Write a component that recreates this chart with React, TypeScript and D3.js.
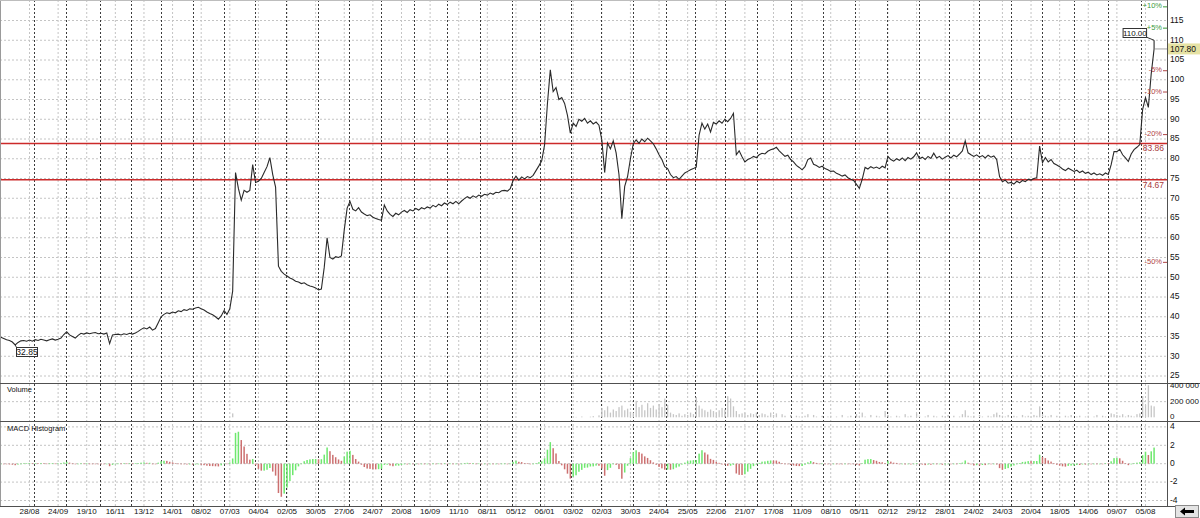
import React from 'react';
import * as d3 from 'd3';

// ---------- DATA ----------
// x-axis labels, one every 20 trading days (first at bar 20)
const labelDates = [
  '28/08', '24/09', '19/10', '16/11', '13/12', '14/01', '08/02', '07/03', '04/04', '02/05',
  '30/05', '27/06', '24/07', '20/08', '16/09', '11/10', '08/11', '05/12', '06/01', '03/02',
  '02/03', '30/03', '24/04', '25/05', '22/06', '21/07', '17/08', '11/09', '08/10', '05/11',
  '02/12', '29/12', '28/01', '24/02', '24/03', '20/04', '18/05', '14/06', '09/07', '05/08',
];
const firstYear = 2007;
const barsPerLabel = 20;
const firstLabelBar = 20;
const barsPerPoint = 2;

// closing prices, one value every 2 trading days
const closes = [
  34.8, 34.5, 34.2, 34.0, 33.6, 32.85, 33.5, 33.9, 34.0, 33.8,
  34.1, 33.8, 34.2, 34.0, 34.3, 34.1, 33.9, 34.2, 34.4, 34.1,
  34.3, 34.6, 35.5, 36.2, 35.4, 35.0, 34.6, 35.3, 35.8, 35.6,
  35.9, 35.7, 35.9, 36.0, 35.7, 35.8, 35.6, 35.9, 33.2, 35.4,
  35.5, 35.6, 35.4, 35.7, 35.5, 35.8, 35.6, 35.9, 36.3, 36.8,
  37.2, 36.9, 37.4, 36.6, 37.0, 38.5, 40.0, 40.6, 41.0, 40.8,
  41.2, 41.0, 41.5, 41.3, 41.8, 41.6, 42.0, 41.9, 42.2, 42.4,
  42.0, 41.7, 41.2, 40.8, 40.5, 40.0, 39.4, 40.2, 41.6, 40.6,
  42.0, 46.5, 76.5, 72.5, 69.5, 72.0, 71.5, 72.0, 78.5, 74.0,
  74.3, 75.0, 76.5, 78.0, 80.3, 76.0, 72.8, 52.8, 51.5, 50.8,
  50.3, 49.8, 49.5, 49.0, 48.8, 48.4, 48.6, 48.1, 47.8, 47.6,
  47.3, 46.8, 47.0, 52.5, 60.0, 55.0, 54.6, 55.2, 55.0, 55.4,
  62.0, 67.5, 69.2, 67.2, 66.8, 67.6, 66.5, 66.0, 65.6, 65.8,
  65.2, 64.9, 64.6, 64.4, 68.3, 66.8, 65.9, 65.4, 66.2, 65.8,
  66.5, 66.9, 66.4, 67.1, 66.8, 67.4, 67.0, 67.6, 67.3, 67.8,
  67.5, 68.2, 67.8, 68.5, 68.1, 68.8, 68.4, 69.0, 68.6, 69.2,
  68.6, 69.3, 69.9, 70.4, 70.0, 70.6, 70.2, 70.8, 70.5, 71.0,
  70.8, 71.3, 71.0, 71.5, 71.4, 71.9, 72.0, 71.8, 72.4, 74.5,
  75.6, 74.6, 75.4, 74.9, 75.5, 75.2, 75.8, 77.0, 78.2, 79.5,
  83.5, 94.0, 102.5, 97.0, 98.0, 95.0, 95.5, 94.0, 91.0, 86.5,
  89.0, 88.2, 90.0, 89.5, 90.2, 89.0, 89.6, 88.8, 89.3, 88.5,
  84.8, 76.5, 84.0, 82.5, 84.5, 81.5, 76.0, 64.8, 73.0, 75.5,
  80.0, 83.8, 84.8, 83.9, 85.0, 84.3, 85.2, 84.5, 83.8, 82.5,
  81.0, 79.8, 78.0, 77.5, 76.0, 75.2, 75.5, 74.8, 75.6, 76.4,
  76.8, 77.2, 77.5, 77.9, 86.0, 89.0, 87.5, 88.8, 86.8, 89.2,
  88.8, 89.6, 89.0, 90.0, 89.4, 90.2, 91.5, 81.0, 82.0, 80.5,
  79.2, 79.8, 80.1, 80.6, 80.3, 81.0, 81.4, 81.2, 81.9, 82.3,
  82.5, 82.9, 82.0, 81.3, 80.6, 80.9, 79.8, 79.2, 78.3, 77.8,
  77.2, 78.0, 79.8, 80.2, 78.6, 78.3, 77.8, 78.1, 77.5, 77.2,
  76.8, 76.9, 76.3, 76.0, 75.6, 75.9, 75.2, 74.8, 74.5, 73.5,
  72.5, 74.8, 77.8, 77.4, 78.0, 77.6, 77.9, 77.5, 78.1, 77.7,
  80.6, 79.8, 79.4, 80.0, 79.6, 80.2, 79.5, 80.3, 79.9, 80.5,
  81.5, 80.0, 80.4, 79.8, 80.6, 80.1, 81.4, 80.2, 80.6, 79.9,
  80.4, 80.8, 80.2, 80.9, 80.5, 81.2, 82.0, 84.5, 81.5, 81.0,
  80.6, 81.0, 80.4, 80.8, 80.2, 80.9, 80.4, 80.7, 79.8, 75.5,
  74.2, 74.6, 73.8, 74.0, 73.6, 74.3, 73.9, 74.5, 74.2, 74.8,
  74.6, 75.0, 75.2, 83.2, 79.0, 80.3, 79.2, 79.8, 78.8, 78.4,
  78.0, 77.4, 77.0, 77.6, 77.2, 76.8, 77.1, 76.5, 76.9, 76.3,
  76.6, 76.0, 76.4, 75.9, 76.2, 75.8, 76.4, 76.0, 78.5, 81.8,
  81.8, 82.4, 81.0, 80.2, 79.3, 81.2, 82.3, 82.9, 83.6, 92.5,
  95.5, 93.0, 101.5, 107.8,
];
const lastHigh = 110.0;

// volume in thousands, aligned with closes
const volumeK = [
  0, 0, 0, 0, 0, 0, 0, 0, 0, 0,
  0, 0, 0, 0, 0, 0, 0, 0, 0, 0,
  0, 0, 0, 0, 0, 0, 0, 0, 0, 0,
  0, 0, 0, 0, 0, 0, 0, 0, 0, 0,
  0, 0, 0, 0, 0, 0, 0, 0, 0, 0,
  0, 0, 0, 0, 0, 0, 0, 0, 0, 0,
  0, 0, 0, 0, 0, 0, 0, 0, 0, 0,
  0, 0, 0, 0, 0, 0, 0, 0, 0, 0,
  0, 50, 0, 0, 0, 0, 0, 0, 0, 0,
  0, 0, 0, 0, 0, 0, 0, 0, 0, 0,
  0, 0, 0, 0, 0, 0, 0, 0, 0, 0,
  0, 0, 0, 0, 0, 0, 0, 0, 0, 0,
  0, 0, 0, 0, 0, 0, 0, 0, 0, 0,
  0, 0, 0, 0, 0, 0, 0, 0, 0, 0,
  0, 0, 0, 0, 0, 0, 0, 0, 0, 0,
  0, 0, 0, 0, 0, 0, 0, 0, 0, 0,
  0, 0, 0, 0, 0, 0, 0, 0, 0, 0,
  0, 0, 0, 0, 0, 0, 0, 0, 0, 0,
  0, 0, 0, 0, 0, 0, 0, 0, 0, 0,
  0, 0, 0, 0, 0, 0, 0, 0, 0, 0,
  0, 5, 0, 10, 0, 0, 8, 15, 0, 25,
  120, 90, 140, 60, 100, 80, 130, 150, 90, 110,
  70, 60, 210, 130, 160, 90, 180, 120, 150, 100,
  170, 130, 240, 160, 60, 40, 30, 50, 20, 40,
  30, 60, 40, 260, 150, 110, 90, 70, 100, 80,
  60, 90, 120, 100, 270, 240, 140, 80, 40, 50,
  60, 30, 50, 40, 60, 30, 50, 40, 20, 60,
  30, 50, 0, 40, 20, 0, 30, 0, 20, 10,
  0, 20, 40, 0, 30, 10, 0, 20, 0, 10,
  20, 0, 10, 0, 30, 0, 10, 20, 0, 40,
  20, 60, 10, 0, 30, 0, 20, 10, 0, 80,
  30, 10, 0, 20, 10, 0, 40, 10, 20, 0,
  50, 20, 0, 10, 30, 0, 20, 10, 0, 20,
  10, 30, 0, 20, 0, 10, 40, 90, 20, 10,
  20, 0, 30, 10, 0, 20, 10, 40, 60, 30,
  20, 10, 30, 0, 20, 10, 0, 30, 10, 20,
  10, 30, 20, 140, 40, 20, 10, 30, 0, 20,
  10, 0, 20, 10, 30, 0, 10, 20, 0, 10,
  20, 0, 10, 30, 0, 20, 10, 0, 50, 40,
  30, 20, 40, 10, 30, 20, 10, 40, 50, 270,
  160, 410, 150, 140,
];

const levels = [83.86, 74.67];
const pctMarks = [10, 5, -5, -10, -20, -50];
const priceTicks = [25, 30, 35, 40, 45, 50, 55, 60, 65, 70, 75, 80, 85, 90, 95, 100, 105, 110, 115];
const volumeTicks = [0, 200000, 400000];
const volumeTickLabels = ['0', '200 000', '400 000'];
const macdTicks = [-4, -2, 0, 2, 4];
const macdPeriods = { fast: 12, slow: 26, signal: 9 };

// ---------- LAYOUT ----------
const W = 1200;
const H = 518;
const R = 1167;
const PRICE = { top: 0, bottom: 383 };
const VOL = { top: 383, bottom: 421 };
const MACD = { top: 421, bottom: 506 };
const FONT = "'Liberation Sans', Arial, sans-serif";

export default function App() {
  const x = d3.scaleLinear().domain([firstLabelBar, firstLabelBar + barsPerLabel * 39]).range([29.5, 1145.5]);
  const px = (i: number) => x(i * barsPerPoint);
  const yP = d3.scaleLinear().domain([25, 115]).range([376, 20.5]);
  const yV = d3.scaleLinear().domain([0, 400000]).range([417.3, 386]);
  const yM = d3.scaleLinear().domain([-4, 4]).range([500.5, 426.9]);

  // dates of labels
  let year = firstYear;
  let prevMonth = 0;
  const dates = labelDates.map((s) => {
    const [d, m] = s.split('/').map(Number);
    if (m < prevMonth) year++;
    prevMonth = m;
    return new Date(year, m - 1, d);
  });
  const labelBars = labelDates.map((_, k) => firstLabelBar + barsPerLabel * k);
  const monthBars: number[] = [];
  for (let k = 0; k < dates.length - 1; k++) {
    const a = dates[k];
    const b = dates[k + 1];
    d3.timeMonth.range(d3.timeDay.offset(a, 1), d3.timeDay.offset(b, 1)).forEach((ms) => {
      monthBars.push(labelBars[k] + (barsPerLabel * (+ms - +a)) / (+b - +a));
    });
  }

  // MACD histogram (daily periods adapted to the 2-day step)
  const alpha = (n: number) => 1 - Math.pow(1 - 2 / (n + 1), barsPerPoint);
  const aF = alpha(macdPeriods.fast);
  const aS = alpha(macdPeriods.slow);
  const aG = alpha(macdPeriods.signal);
  let eF = closes[0];
  let eS = closes[0];
  let sig = 0;
  const hist = closes.map((c, i) => {
    if (i > 0) {
      eF += aF * (c - eF);
      eS += aS * (c - eS);
    }
    const m = eF - eS;
    sig += aG * (m - sig);
    return m - sig;
  });

  const line = d3
    .line<number>()
    .x((_, i) => px(i))
    .y((c) => yP(c));

  const last = closes[closes.length - 1];
  const lastI = closes.length - 1;
  const minC = d3.min(closes) as number;
  const minI = closes.indexOf(minC);

  const lightGrid = '#c4c4c4';
  const darkGrid = '#3c3c3c';
  const sep = '#505050';
  const boxX = px(lastI) - 31;

  return (
    <svg
      width={W}
      height={H}
      style={{ position: 'absolute', left: 0, top: 0, background: '#fff' }}
      fontFamily={FONT}
    >
      <defs>
        <clipPath id="clipP">
          <rect x={0} y={PRICE.top} width={R} height={PRICE.bottom - PRICE.top} />
        </clipPath>
        <clipPath id="clipV">
          <rect x={0} y={VOL.top} width={W} height={VOL.bottom - VOL.top} />
        </clipPath>
      </defs>
      <rect x={0} y={0} width={W} height={H} fill="#fff" />

      {/* horizontal grids */}
      {priceTicks.map((t) => (
        <line key={'hp' + t} x1={0} x2={R} y1={yP(t)} y2={yP(t)} stroke={lightGrid} strokeDasharray="2,2" />
      ))}
      {volumeTicks.slice(1, 2).map((t) => (
        <line key={'hv' + t} x1={0} x2={R} y1={yV(t)} y2={yV(t)} stroke={lightGrid} strokeDasharray="2,2" />
      ))}
      {macdTicks.map((t) => (
        <line key={'hm' + t} x1={0} x2={R} y1={yM(t)} y2={yM(t)} stroke={lightGrid} strokeDasharray="2,2" />
      ))}

      {/* vertical grids */}
      {labelBars.map((b) => (
        <line key={'vl' + b} x1={x(b)} x2={x(b)} y1={0} y2={MACD.bottom} stroke={lightGrid} strokeDasharray="2,2" />
      ))}
      {monthBars.map((b, i) => (
        <line
          key={'vm' + i}
          x1={Math.round(x(b)) + 0.5}
          x2={Math.round(x(b)) + 0.5}
          y1={0}
          y2={MACD.bottom}
          stroke={darkGrid}
          strokeDasharray="2,2"
        />
      ))}

      {/* support / resistance lines */}
      {levels.map((l) => (
        <g key={'lv' + l}>
          <line x1={0} x2={R} y1={yP(l)} y2={yP(l)} stroke="#cc2a2a" strokeWidth={1.6} />
          <text x={R - 3} y={yP(l) + 5.5} fontSize={8.5} fill="#a83a3a" textAnchor="end" dominantBaseline="middle">
            {l.toFixed(2)}
          </text>
        </g>
      ))}

      {/* price */}
      <g clipPath="url(#clipP)">
        <path d={line(closes) || ''} fill="none" stroke="#2a2a2a" strokeWidth={1.1} />
        <line x1={px(lastI)} x2={px(lastI)} y1={yP(last)} y2={yP(lastHigh)} stroke="#2a2a2a" strokeWidth={1.1} />
        <line x1={px(lastI) + 1} x2={R} y1={yP(last)} y2={yP(last)} stroke="#a0a0a0" />
      </g>

      {/* high label */}
      <line x1={boxX + 23} y1={37} x2={px(lastI)} y2={yP(lastHigh)} stroke="#333" />
      <rect x={boxX} y={28.5} width={23.5} height={9} fill="#fff" stroke="#333" />
      <text x={boxX + 11.75} y={33.5} fontSize={8} textAnchor="middle" dominantBaseline="middle" fill="#111">
        {lastHigh.toFixed(2)}
      </text>

      {/* low label */}
      <line x1={px(minI)} y1={yP(minC)} x2={17} y2={348.5} stroke="#333" />
      <rect x={16.5} y={347.5} width={21} height={9} fill="#fff" stroke="#333" />
      <text x={27} y={352.5} fontSize={8.5} textAnchor="middle" dominantBaseline="middle" fill="#111">
        {minC.toFixed(2)}
      </text>

      {/* volume */}
      <g clipPath="url(#clipV)">
        {volumeK.map((v, i) =>
          v > 0 ? (
            <rect
              key={'v' + i}
              x={px(i) - 0.6}
              width={1.3}
              y={yV(v * 1000)}
              height={yV(0) - yV(v * 1000)}
              fill="#c6c6c6"
            />
          ) : null
        )}
      </g>

      {/* macd histogram */}
      {hist.map((h, i) => {
        const up = i === 0 ? h >= 0 : h >= hist[i - 1];
        const y0 = yM(0);
        const y1 = yM(h);
        return (
          <rect
            key={'m' + i}
            x={px(i) - 0.75}
            width={1.5}
            y={Math.min(y0, y1)}
            height={Math.max(0.6, Math.abs(y1 - y0))}
            fill={up ? '#6ee86e' : '#cc7070'}
          />
        );
      })}

      {/* panel frames */}
      <line x1={0.5} x2={0.5} y1={0} y2={MACD.bottom} stroke="#9a9a9a" />
      <line x1={0} x2={R} y1={0.5} y2={0.5} stroke="#bdbdbd" />
      <line x1={R + 0.5} x2={R + 0.5} y1={0} y2={MACD.bottom} stroke={sep} />
      <line x1={0} x2={W} y1={PRICE.bottom + 0.5} y2={PRICE.bottom + 0.5} stroke={sep} />
      <line x1={0} x2={W} y1={VOL.bottom + 0.5} y2={VOL.bottom + 0.5} stroke={sep} />
      <line x1={0} x2={R + 8} y1={MACD.bottom + 0.5} y2={MACD.bottom + 0.5} stroke={sep} />

      {/* right axis: price */}
      {priceTicks.map((t) => (
        <text key={'tp' + t} x={R + 3} y={yP(t)} fontSize={8.5} dominantBaseline="middle" fill="#111">
          {t}
        </text>
      ))}
      {pctMarks.map((p) => {
        const yy = yP(last * (1 + p / 100));
        const col = p > 0 ? '#3a9a3a' : '#b04444';
        return (
          <g key={'pc' + p}>
            <text x={R - 5} y={yy} fontSize={7.5} textAnchor="end" dominantBaseline="middle" fill={col}>
              {(p > 0 ? '+' : '') + p + '%'}
            </text>
            <line x1={R - 4} x2={R} y1={yy + 0.5} y2={yy + 0.5} stroke={col} />
          </g>
        );
      })}
      <rect x={R + 1} y={yP(last) - 5.5} width={W - R - 1} height={11} fill="#e6e2a4" />
      <text x={R + 3} y={yP(last) + 0.5} fontSize={8.5} dominantBaseline="middle" fill="#111">
        {last.toFixed(2)}
      </text>

      {/* right axis: volume */}
      <g clipPath="url(#clipV)">
        {volumeTicks.map((t, i) => (
          <text key={'tv' + t} x={R + 3} y={yV(t)} fontSize={8} dominantBaseline="middle" fill="#111">
            {volumeTickLabels[i]}
          </text>
        ))}
      </g>
      {/* right axis: macd */}
      {macdTicks.map((t) => (
        <text key={'tm' + t} x={R + 3} y={yM(t)} fontSize={8.5} dominantBaseline="middle" fill="#111">
          {t}
        </text>
      ))}

      {/* panel titles */}
      <text x={7} y={390.5} fontSize={7.5} dominantBaseline="middle" fill="#111">
        Volume
      </text>
      <text x={7} y={429} fontSize={7.5} dominantBaseline="middle" fill="#111">
        MACD Histogram
      </text>

      {/* x labels */}
      {labelDates.map((s, k) => (
        <text
          key={'xl' + k}
          x={x(labelBars[k])}
          y={512}
          fontSize={8}
          textAnchor="middle"
          dominantBaseline="middle"
          fill="#111"
        >
          {s}
        </text>
      ))}

      {/* scroll button */}
      <rect x={1175.5} y={505.5} width={23} height={12} fill="#e4e4e4" stroke="#8a8a8a" />
      <path d="M1180,511.5 L1185,507.5 L1185,510 L1194,510 L1194,513 L1185,513 L1185,515.5 Z" fill="#000" />
    </svg>
  );
}
